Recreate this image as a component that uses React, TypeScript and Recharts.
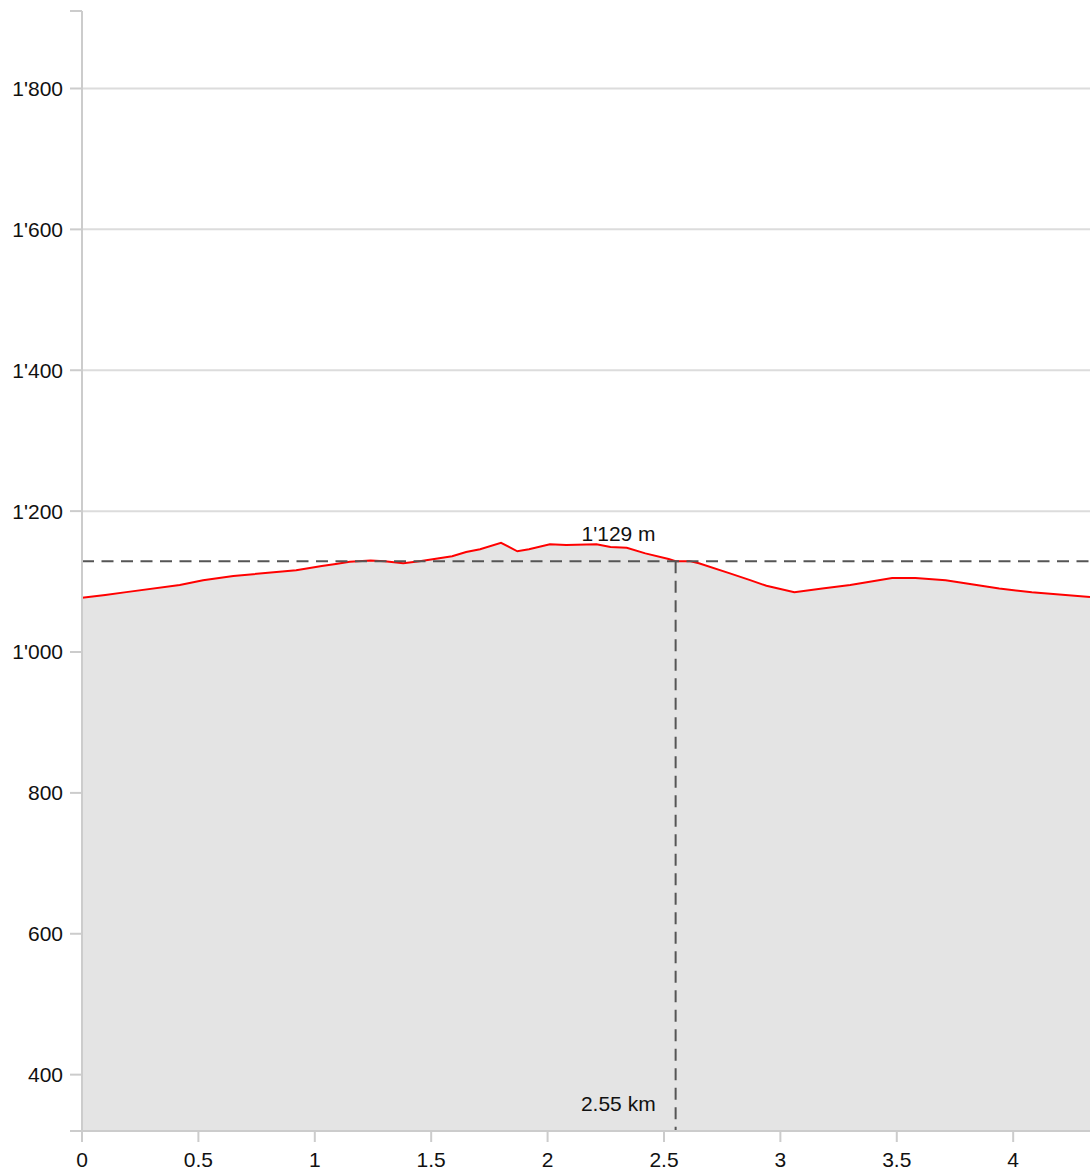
import React from 'react';
import { AreaChart, Area, XAxis, YAxis, CartesianGrid, ReferenceLine, ReferenceDot } from 'recharts';

const distances = [0, 0.1, 0.19, 0.42, 0.52, 0.65, 0.92, 1.03, 1.09, 1.15, 1.24, 1.3, 1.38, 1.45, 1.59, 1.65, 1.71, 1.8, 1.87, 1.92, 2.01, 2.08, 2.21, 2.27, 2.34, 2.42, 2.52, 2.55, 2.61, 2.65, 2.78, 2.87, 2.94, 3.06, 3.18, 3.3, 3.48, 3.58, 3.71, 3.94, 4.08, 4.33];
const elevations = [1077, 1081, 1085, 1095, 1102, 1108, 1116, 1122, 1125, 1128, 1130, 1129, 1126, 1129, 1136, 1142, 1146, 1155, 1143, 1146, 1153, 1152, 1153, 1149, 1148, 1140, 1132, 1129, 1129, 1126, 1112, 1102, 1094, 1085, 1090, 1095, 1105, 1105, 1102, 1090, 1085, 1078];

const xTicks = [0, 0.5, 1, 1.5, 2, 2.5, 3, 3.5, 4];
const yGridValues = [400, 600, 800, 1000, 1200, 1400, 1600, 1800];
const yDomain: [number, number] = [320, 1910];
const yTicks = [yDomain[0], ...yGridValues, yDomain[1]];
const xDomain: [number, number] = [0, 4.33];

const markerDistance = 2.55;
const markerElevation = 1129;

const data = distances.map((d, i) => ({ d, e: elevations[i] }));

const fmtThousands = (v: number) => {
  const s = String(Math.round(v));
  return s.replace(/\B(?=(\d{3})+(?!\d))/g, "'");
};

const FONT = '"Liberation Sans", Arial, sans-serif';

const makeLabel = (text: string) => (props: any) => {
  const vb = props.viewBox || {};
  const x = (vb.x ?? 0) + (vb.width ?? 0) / 2;
  const y = (vb.y ?? 0) + (vb.height ?? 0) / 2;
  return (
    <text x={x - 20} y={y - 20} textAnchor="end" fontSize={21} fontFamily={FONT} fill="#111">
      {text}
    </text>
  );
};

export default function App() {
  return (
    <div style={{ position: 'absolute', left: 0, top: 0 }}>
      <AreaChart
        width={1090}
        height={1171}
        data={data}
        margin={{ top: 11, right: 0, bottom: 0, left: 0 }}
      >
        <CartesianGrid vertical={false} horizontalValues={yGridValues} stroke="#dcdcdc" strokeWidth={2} />
        <XAxis
          dataKey="d"
          type="number"
          domain={xDomain}
          allowDataOverflow
          ticks={xTicks}
          interval={0}
          height={40}
          tickSize={11}
          tickMargin={10}
          axisLine={{ stroke: '#cccccc', strokeWidth: 2 }}
          tickLine={{ stroke: '#cccccc', strokeWidth: 2 }}
          tick={{ fontSize: 21, fontFamily: FONT, fill: '#111' }}
        />
        <YAxis
          type="number"
          domain={yDomain}
          allowDataOverflow
          ticks={yTicks}
          interval={0}
          width={82}
          tickSize={12}
          tickMargin={7}
          tickFormatter={(v: number) => (v === yDomain[0] || v === yDomain[1] ? '' : fmtThousands(v))}
          axisLine={{ stroke: '#cccccc', strokeWidth: 2 }}
          tickLine={{ stroke: '#cccccc', strokeWidth: 2 }}
          tick={{ fontSize: 21, fontFamily: FONT, fill: '#111' }}
        />
        <Area
          type="linear"
          dataKey="e"
          stroke="#ff0000"
          strokeWidth={2}
          fill="#e4e4e4"
          fillOpacity={1}
          isAnimationActive={false}
          dot={false}
          activeDot={false}
        />
        <ReferenceLine
          y={markerElevation}
          stroke="#555555"
          strokeWidth={2}
          strokeDasharray="12 7.5"
          ifOverflow="visible"
        />
        <ReferenceLine
          segment={[{ x: markerDistance, y: markerElevation }, { x: markerDistance, y: yDomain[0] }]}
          stroke="#555555"
          strokeWidth={2}
          strokeDasharray="12 7.5"
          ifOverflow="visible"
        />
        <ReferenceDot
          x={markerDistance}
          y={markerElevation}
          r={0}
          fill="none"
          stroke="none"
          ifOverflow="visible"
          label={makeLabel(`${fmtThousands(markerElevation)} m`)}
        />
        <ReferenceDot
          x={markerDistance}
          y={yDomain[0]}
          r={0}
          fill="none"
          stroke="none"
          ifOverflow="visible"
          label={makeLabel(`${markerDistance} km`)}
        />
      </AreaChart>
    </div>
  );
}
